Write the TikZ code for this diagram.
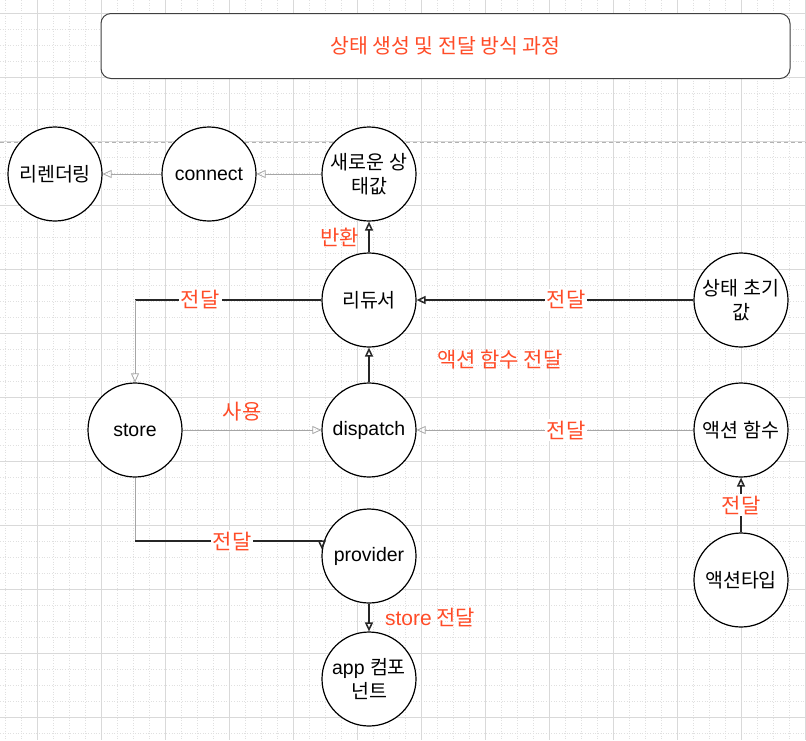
\documentclass[tikz,border=0pt]{standalone}
\usepackage{fontspec}
\setmainfont{Liberation Sans}
\newfontfamily\kr{Noto Sans CJK KR}
\usepackage{tikz}
\usetikzlibrary{arrows.meta, positioning}
\definecolor{labelred}{RGB}{255,76,40}

\begin{document}
\begin{tikzpicture}[
    x=1pt, y=-1pt,
    circ/.style = {draw, circle, line width=1.2pt, minimum size=94pt, inner sep=0pt, fill=white, align=center, font=\fontsize{19.5}{24}\selectfont},
    titlebox/.style = {draw=black!75, line width=1pt, rounded corners=10pt, minimum width=689pt, minimum height=65pt, fill=white, text=labelred, font=\kr\fontsize{20.5}{24}\selectfont},
    thinline/.style = {draw=black!35, line width=0.8pt},
    thickline/.style = {draw=black!85, line width=1.5pt},
    thinarrow/.style = {thinline, -{Triangle[open, length=9pt, width=8pt]}},
    thickarrow/.style = {thickline, -{Triangle[open, length=9pt, width=8pt]}},
    lbl/.style = {text=labelred, font=\kr\fontsize{21}{24}\selectfont},
    lblbox/.style = {lbl, fill=white, inner sep=2pt},
    minorgrid/.style = {black!12, line width=0.6pt, dotted},
    majorgrid/.style = {black!15, line width=0.8pt}
  ]

  \useasboundingbox (0,0) rectangle (806,740);
  \fill[white] (0,0) rectangle (806,740);

  % Background grid
  \foreach \gx in {5,21,...,805}
    \draw[minorgrid] (\gx,0) -- (\gx,740);
  \foreach \gy in {13,29,...,733}
    \draw[minorgrid] (0,\gy) -- (806,\gy);
  \foreach \gx in {37,101,...,805}
    \draw[majorgrid] (\gx,0) -- (\gx,740);
  \foreach \gy in {13,77,...,717}
    \draw[majorgrid] (0,\gy) -- (806,\gy);

  % Dashed separator
  \draw[black!30, line width=0.8pt, dash pattern=on 4pt off 3pt] (0,142) -- (806,142);

  % Title
  \node[titlebox] (title) at (445.5,46) {상태 생성 및 전달 방식 과정};

  % Top row
  \node[circ] (rerender) at (55,174) {\kr 리렌더링};
  \node[circ] (connect) at (209,174) {connect};
  \node[circ] (newstate) at (369,174) {\kr 새로운 상\\\kr 태값};

  % Reducer row
  \node[circ] (reducer) at (369,300) {\kr 리듀서};
  \node[circ] (initstate) at (741,300) {\kr 상태 초기\\\kr 값};

  % Dispatch row
  \node[circ] (store) at (135,430) {store};
  \node[circ] (dispatch) at (369,430) {dispatch};
  \node[circ] (actfunc) at (741,430) {\kr 액션 함수};

  % Bottom part
  \node[circ] (provider) at (369,556) {provider};
  \node[circ] (acttype) at (741,580) {\kr 액션타입};
  \node[circ] (appcomp) at (369,679) {app {\kr 컴포}\\\kr 넌트};

  % Corners of the bent connectors
  \coordinate (cornerA) at (store |- reducer);
  \coordinate (cornerB) at (135,541);
  \coordinate (cornerC) at (provider.172 |- cornerB);

  % Connectors in the top row
  \draw[thinarrow] (connect) -- (rerender);
  \draw[thinarrow] (newstate) -- (connect);
  \draw[thickarrow] (reducer) -- node[lbl, left=6pt] {반환} (newstate);

  % Into the reducer
  \draw[thickarrow] (initstate) -- node[lblbox, pos=0.46] {전달} (reducer);
  \draw[thickarrow] (dispatch) -- node[lbl, anchor=west, xshift=64pt, yshift=5pt] {액션 함수 전달} (reducer);

  % Reducer back to store
  \draw[thickline] (reducer) -- node[lblbox, pos=0.65] {전달} (cornerA);
  \draw[thinarrow] (cornerA) -- (store);

  % Into dispatch
  \draw[thinarrow] (store) -- node[lbl, above=5pt, pos=0.43] {사용} (dispatch);
  \draw[thinarrow] (actfunc) -- node[lblbox, pos=0.46] {전달} (dispatch);
  \draw[thickarrow] (acttype) -- node[lblbox] {전달} (actfunc);

  % Store to provider to app
  \draw[thinline] (store) -- (cornerB);
  \draw[thickline] (cornerB) -- node[lblbox, pos=0.52] {전달} (cornerC);
  \draw[thickarrow] (cornerC) -- (provider.172);
  \draw[thickarrow] (provider) -- node[lbl, right=12pt] {{\rmfamily store} 전달} (appcomp);

\end{tikzpicture}
\end{document}
